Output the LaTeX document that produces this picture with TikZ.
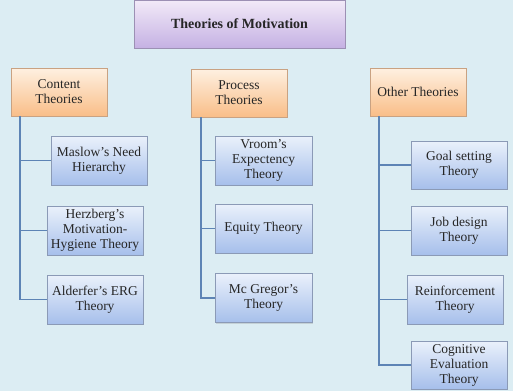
\documentclass[tikz,border=0pt]{standalone}
\usepackage{fontspec}
\setmainfont{Liberation Serif}
\usetikzlibrary{positioning,shadows,backgrounds}
\definecolor{sheetbg}{HTML}{DCEDF3}
\definecolor{lavtop}{HTML}{F2EAF8}
\definecolor{lavbot}{HTML}{C5B1E3}
\definecolor{lavedge}{HTML}{9C90B4}
\definecolor{peachtop}{HTML}{FEF0E1}
\definecolor{peachbot}{HTML}{F9BE88}
\definecolor{peachedge}{HTML}{C9A282}
\definecolor{skytop}{HTML}{EAF1FB}
\definecolor{skybot}{HTML}{A6BFEB}
\definecolor{skyedge}{HTML}{8B9AB6}
\definecolor{orangeline}{HTML}{F0A966}
\definecolor{blueline}{HTML}{5D84B5}
\tikzset{
  motbox/.style={rectangle, draw, align=center, inner sep=0.5pt, line width=0.8pt,
    font=\fontsize{13.5}{15}\selectfont, text=black!85,
    drop shadow={shadow xshift=1.2pt, shadow yshift=-1.2pt, opacity=0.25}},
  rootbox/.style={motbox, draw=lavedge, top color=lavtop, bottom color=lavbot,
    minimum width=211pt, minimum height=48pt, font=\fontsize{14}{15}\selectfont\bfseries},
  groupbox/.style={motbox, draw=peachedge, top color=peachtop, bottom color=peachbot,
    minimum width=96pt, minimum height=48pt},
  theorybox/.style={motbox, draw=skyedge, top color=skytop, bottom color=skybot,
    minimum width=96pt, minimum height=49pt},
  grouplink/.style={orangeline, line width=1.6pt},
  theorylink/.style={blueline, line width=1.6pt},
}
\begin{document}
\begin{tikzpicture}[x=1pt, y=-1pt]
\fill[sheetbg] (0,0) rectangle (513,391);
\useasboundingbox (0,0) rectangle (513,391);
% root and the three groups
\node[rootbox] (motiv) at (239.5,24) {Theories of Motivation};
\node[groupbox] (content) at (59,92) {Content\\Theories};
\node[groupbox] (process) at (239,93) {Process\\Theories};
\node[groupbox] (other) at (418,92) {Other Theories};
% content theories
\node[theorybox] (maslow) at (99,160.5) {Maslow's Need\\Hierarchy};
\node[theorybox] (herzberg) at (95,230.5) {Herzberg's\\Motivation-\\Hygiene Theory};
\node[theorybox] (alderfer) at (95,299.5) {Alderfer's ERG\\Theory};
% process theories
\node[theorybox, minimum width=97pt] (vroom) at (263.5,160.5) {Vroom's\\Expectency\\Theory};
\node[theorybox, minimum width=97pt] (equity) at (263.5,228.5) {Equity Theory};
\node[theorybox, minimum width=97pt] (mcgregor) at (263.5,298) {Mc Gregor's\\Theory};
% other theories
\node[theorybox, minimum height=48pt] (goal) at (459,165) {Goal setting\\Theory};
\node[theorybox] (job) at (459,230.5) {Job design\\Theory};
\node[theorybox] (reinf) at (455,299.5) {Reinforcement\\Theory};
\node[theorybox, minimum height=48pt] (cognitive) at (459,365) {Cognitive\\Evaluation\\Theory};
% orange bus from the root
\coordinate (bus) at (239.5,58);
\begin{scope}[on background layer]
\draw[grouplink] (motiv.south) -- (process.north);
\draw[grouplink] (content.north) |- (bus) -| (other.north);
\end{scope}
% blue spines
\coordinate (cspine) at (20,116);
\coordinate (pspine) at (201,117);
\coordinate (ospine) at (379,116);
\draw[theorylink] (cspine) |- (maslow.west);
\draw[theorylink] (cspine) |- (herzberg.west);
\draw[theorylink] (cspine) |- (alderfer.west);
\draw[theorylink] (pspine) |- (vroom.west);
\draw[theorylink] (pspine) |- (equity.west);
\draw[theorylink] (pspine) |- (mcgregor.west);
\draw[theorylink] (ospine) |- (goal.west);
\draw[theorylink] (ospine) |- (job.west);
\draw[theorylink] (ospine) |- (reinf.west);
\draw[theorylink] (ospine) |- (cognitive.west);
\end{tikzpicture}
\end{document}
